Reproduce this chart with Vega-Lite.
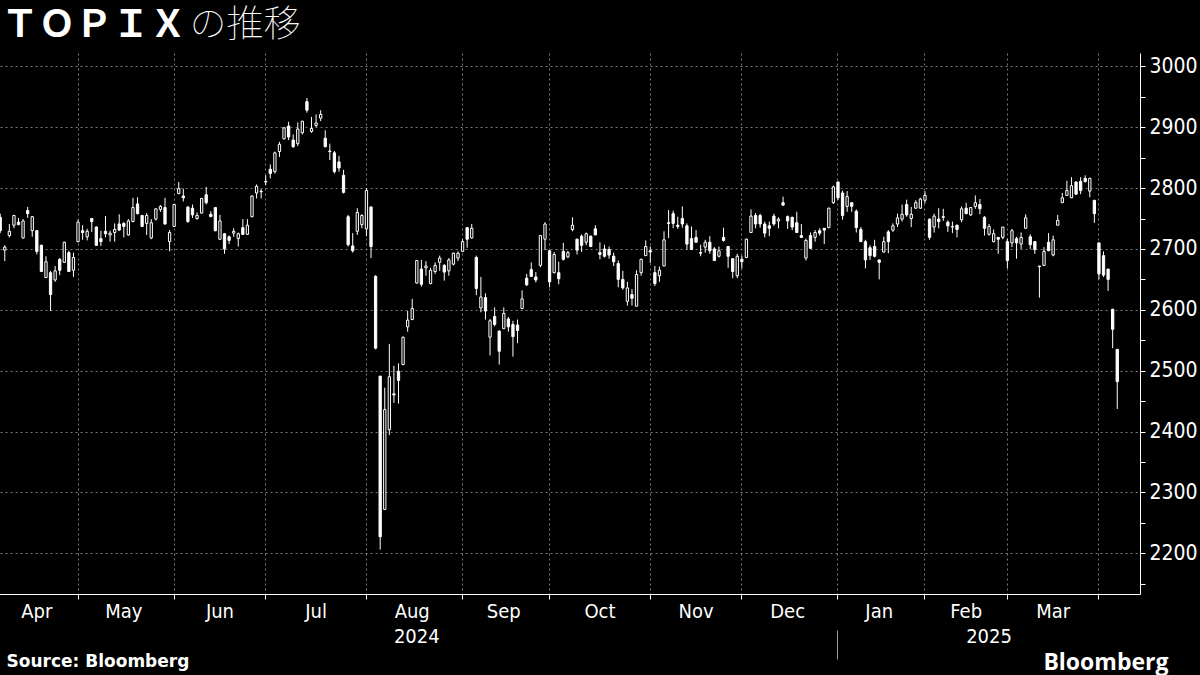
{
  "$schema": "https://vega.github.io/schema/vega-lite/v6.json",
  "width": 1140,
  "height": 541,
  "autosize": "none",
  "padding": {"left": 0, "top": 53, "right": 60, "bottom": 81},
  "background": "black",
  "config": {
    "view": {"stroke": null},
    "axis": {
      "labelFont": "DejaVu Sans Condensed",
      "labelFontSize": 20,
      "labelColor": "white",
      "labelAngle": 0,
      "labelOverlap": false,
      "labelFlush": false,
      "labelBound": false
    }
  },
  "data": {
    "values": [
      {"date": "2024-04-04", "open": 2752, "high": 2758, "low": 2726, "close": 2730},
      {"date": "2024-04-05", "open": 2698, "high": 2706, "low": 2680, "close": 2703},
      {"date": "2024-04-08", "open": 2722, "high": 2741, "low": 2719, "close": 2729},
      {"date": "2024-04-09", "open": 2739, "high": 2756, "low": 2734, "close": 2755},
      {"date": "2024-04-10", "open": 2744, "high": 2751, "low": 2739, "close": 2740},
      {"date": "2024-04-11", "open": 2718, "high": 2749, "low": 2717, "close": 2746},
      {"date": "2024-04-12", "open": 2763, "high": 2769, "low": 2751, "close": 2758},
      {"date": "2024-04-15", "open": 2730, "high": 2754, "low": 2720, "close": 2753},
      {"date": "2024-04-16", "open": 2730, "high": 2731, "low": 2691, "close": 2696},
      {"date": "2024-04-17", "open": 2706, "high": 2707, "low": 2662, "close": 2663},
      {"date": "2024-04-18", "open": 2653, "high": 2688, "low": 2652, "close": 2679},
      {"date": "2024-04-19", "open": 2661, "high": 2664, "low": 2598, "close": 2625},
      {"date": "2024-04-22", "open": 2649, "high": 2672, "low": 2646, "close": 2664},
      {"date": "2024-04-23", "open": 2683, "high": 2685, "low": 2657, "close": 2665},
      {"date": "2024-04-24", "open": 2678, "high": 2712, "low": 2677, "close": 2711},
      {"date": "2024-04-25", "open": 2694, "high": 2697, "low": 2662, "close": 2663},
      {"date": "2024-04-26", "open": 2665, "high": 2694, "low": 2654, "close": 2686},
      {"date": "2024-04-30", "open": 2712, "high": 2748, "low": 2711, "close": 2744},
      {"date": "2024-05-01", "open": 2730, "high": 2739, "low": 2715, "close": 2727},
      {"date": "2024-05-02", "open": 2720, "high": 2733, "low": 2714, "close": 2729},
      {"date": "2024-05-07", "open": 2750, "high": 2751, "low": 2728, "close": 2745},
      {"date": "2024-05-08", "open": 2736, "high": 2737, "low": 2705, "close": 2706},
      {"date": "2024-05-09", "open": 2717, "high": 2730, "low": 2705, "close": 2712},
      {"date": "2024-05-10", "open": 2729, "high": 2754, "low": 2719, "close": 2725},
      {"date": "2024-05-13", "open": 2723, "high": 2730, "low": 2712, "close": 2726},
      {"date": "2024-05-14", "open": 2727, "high": 2742, "low": 2712, "close": 2732},
      {"date": "2024-05-15", "open": 2741, "high": 2757, "low": 2730, "close": 2731},
      {"date": "2024-05-16", "open": 2742, "high": 2744, "low": 2719, "close": 2737},
      {"date": "2024-05-17", "open": 2723, "high": 2749, "low": 2722, "close": 2746},
      {"date": "2024-05-20", "open": 2745, "high": 2784, "low": 2744, "close": 2768},
      {"date": "2024-05-21", "open": 2774, "high": 2785, "low": 2757, "close": 2758},
      {"date": "2024-05-22", "open": 2755, "high": 2756, "low": 2736, "close": 2737},
      {"date": "2024-05-23", "open": 2742, "high": 2759, "low": 2723, "close": 2755},
      {"date": "2024-05-24", "open": 2718, "high": 2749, "low": 2716, "close": 2743},
      {"date": "2024-05-27", "open": 2749, "high": 2766, "low": 2747, "close": 2766},
      {"date": "2024-05-28", "open": 2765, "high": 2772, "low": 2761, "close": 2770},
      {"date": "2024-05-29", "open": 2768, "high": 2784, "low": 2740, "close": 2741},
      {"date": "2024-05-30", "open": 2712, "high": 2731, "low": 2696, "close": 2727},
      {"date": "2024-05-31", "open": 2737, "high": 2774, "low": 2736, "close": 2773},
      {"date": "2024-06-03", "open": 2791, "high": 2810, "low": 2790, "close": 2799},
      {"date": "2024-06-04", "open": 2787, "high": 2799, "low": 2778, "close": 2784},
      {"date": "2024-06-05", "open": 2769, "high": 2770, "low": 2743, "close": 2745},
      {"date": "2024-06-06", "open": 2767, "high": 2773, "low": 2751, "close": 2756},
      {"date": "2024-06-07", "open": 2750, "high": 2760, "low": 2748, "close": 2755},
      {"date": "2024-06-10", "open": 2759, "high": 2784, "low": 2758, "close": 2783},
      {"date": "2024-06-11", "open": 2789, "high": 2802, "low": 2773, "close": 2776},
      {"date": "2024-06-12", "open": 2757, "high": 2762, "low": 2753, "close": 2753},
      {"date": "2024-06-13", "open": 2768, "high": 2769, "low": 2729, "close": 2730},
      {"date": "2024-06-14", "open": 2716, "high": 2756, "low": 2715, "close": 2746},
      {"date": "2024-06-17", "open": 2725, "high": 2726, "low": 2692, "close": 2700},
      {"date": "2024-06-18", "open": 2720, "high": 2722, "low": 2708, "close": 2714},
      {"date": "2024-06-19", "open": 2726, "high": 2734, "low": 2720, "close": 2729},
      {"date": "2024-06-20", "open": 2717, "high": 2727, "low": 2704, "close": 2725},
      {"date": "2024-06-21", "open": 2735, "high": 2749, "low": 2723, "close": 2724},
      {"date": "2024-06-24", "open": 2724, "high": 2749, "low": 2723, "close": 2739},
      {"date": "2024-06-25", "open": 2753, "high": 2788, "low": 2752, "close": 2787},
      {"date": "2024-06-26", "open": 2792, "high": 2806, "low": 2783, "close": 2803},
      {"date": "2024-06-27", "open": 2795, "high": 2798, "low": 2783, "close": 2794},
      {"date": "2024-06-28", "open": 2810, "high": 2821, "low": 2805, "close": 2811},
      {"date": "2024-07-01", "open": 2831, "high": 2839, "low": 2816, "close": 2824},
      {"date": "2024-07-02", "open": 2827, "high": 2860, "low": 2824, "close": 2858},
      {"date": "2024-07-03", "open": 2860, "high": 2876, "low": 2851, "close": 2872},
      {"date": "2024-07-04", "open": 2881, "high": 2900, "low": 2880, "close": 2899},
      {"date": "2024-07-05", "open": 2902, "high": 2909, "low": 2879, "close": 2884},
      {"date": "2024-07-08", "open": 2879, "high": 2888, "low": 2866, "close": 2868},
      {"date": "2024-07-09", "open": 2873, "high": 2908, "low": 2869, "close": 2897},
      {"date": "2024-07-10", "open": 2891, "high": 2910, "low": 2888, "close": 2910},
      {"date": "2024-07-11", "open": 2942, "high": 2948, "low": 2924, "close": 2928},
      {"date": "2024-07-12", "open": 2893, "high": 2917, "low": 2891, "close": 2898},
      {"date": "2024-07-16", "open": 2903, "high": 2921, "low": 2900, "close": 2907},
      {"date": "2024-07-17", "open": 2915, "high": 2928, "low": 2910, "close": 2921},
      {"date": "2024-07-18", "open": 2882, "high": 2895, "low": 2867, "close": 2868},
      {"date": "2024-07-19", "open": 2861, "high": 2873, "low": 2846, "close": 2860},
      {"date": "2024-07-22", "open": 2858, "high": 2861, "low": 2824, "close": 2827},
      {"date": "2024-07-23", "open": 2843, "high": 2853, "low": 2827, "close": 2833},
      {"date": "2024-07-24", "open": 2821, "high": 2830, "low": 2791, "close": 2793},
      {"date": "2024-07-25", "open": 2753, "high": 2756, "low": 2704, "close": 2707},
      {"date": "2024-07-26", "open": 2705, "high": 2726, "low": 2694, "close": 2697},
      {"date": "2024-07-29", "open": 2729, "high": 2767, "low": 2723, "close": 2760},
      {"date": "2024-07-30", "open": 2740, "high": 2757, "low": 2734, "close": 2755},
      {"date": "2024-07-31", "open": 2733, "high": 2800, "low": 2721, "close": 2796},
      {"date": "2024-08-01", "open": 2769, "high": 2770, "low": 2685, "close": 2704},
      {"date": "2024-08-02", "open": 2655, "high": 2657, "low": 2535, "close": 2537},
      {"date": "2024-08-05", "open": 2491, "high": 2491, "low": 2206, "close": 2227},
      {"date": "2024-08-06", "open": 2272, "high": 2472, "low": 2271, "close": 2436},
      {"date": "2024-08-07", "open": 2403, "high": 2544, "low": 2394, "close": 2490},
      {"date": "2024-08-08", "open": 2462, "high": 2508, "low": 2447, "close": 2460},
      {"date": "2024-08-09", "open": 2499, "high": 2512, "low": 2446, "close": 2484},
      {"date": "2024-08-13", "open": 2510, "high": 2556, "low": 2509, "close": 2555},
      {"date": "2024-08-14", "open": 2572, "high": 2598, "low": 2564, "close": 2583},
      {"date": "2024-08-15", "open": 2584, "high": 2618, "low": 2583, "close": 2602},
      {"date": "2024-08-16", "open": 2644, "high": 2681, "low": 2643, "close": 2681},
      {"date": "2024-08-19", "open": 2667, "high": 2682, "low": 2638, "close": 2642},
      {"date": "2024-08-20", "open": 2669, "high": 2680, "low": 2656, "close": 2672},
      {"date": "2024-08-21", "open": 2643, "high": 2669, "low": 2642, "close": 2665},
      {"date": "2024-08-22", "open": 2663, "high": 2678, "low": 2659, "close": 2673},
      {"date": "2024-08-23", "open": 2678, "high": 2689, "low": 2664, "close": 2685},
      {"date": "2024-08-26", "open": 2673, "high": 2675, "low": 2648, "close": 2662},
      {"date": "2024-08-27", "open": 2664, "high": 2685, "low": 2656, "close": 2682},
      {"date": "2024-08-28", "open": 2675, "high": 2694, "low": 2673, "close": 2693},
      {"date": "2024-08-29", "open": 2685, "high": 2696, "low": 2680, "close": 2693},
      {"date": "2024-08-30", "open": 2696, "high": 2716, "low": 2695, "close": 2712},
      {"date": "2024-09-02", "open": 2735, "high": 2736, "low": 2702, "close": 2716},
      {"date": "2024-09-03", "open": 2718, "high": 2741, "low": 2717, "close": 2734},
      {"date": "2024-09-04", "open": 2686, "high": 2689, "low": 2624, "close": 2635},
      {"date": "2024-09-05", "open": 2603, "high": 2654, "low": 2596, "close": 2621},
      {"date": "2024-09-06", "open": 2620, "high": 2627, "low": 2584, "close": 2598},
      {"date": "2024-09-09", "open": 2555, "high": 2585, "low": 2525, "close": 2582},
      {"date": "2024-09-10", "open": 2589, "high": 2604, "low": 2573, "close": 2576},
      {"date": "2024-09-11", "open": 2565, "high": 2566, "low": 2510, "close": 2532},
      {"date": "2024-09-12", "open": 2569, "high": 2604, "low": 2569, "close": 2594},
      {"date": "2024-09-13", "open": 2585, "high": 2588, "low": 2564, "close": 2572},
      {"date": "2024-09-17", "open": 2576, "high": 2582, "low": 2523, "close": 2556},
      {"date": "2024-09-18", "open": 2575, "high": 2584, "low": 2545, "close": 2566},
      {"date": "2024-09-19", "open": 2602, "high": 2632, "low": 2601, "close": 2618},
      {"date": "2024-09-20", "open": 2652, "high": 2659, "low": 2639, "close": 2641},
      {"date": "2024-09-24", "open": 2666, "high": 2678, "low": 2654, "close": 2655},
      {"date": "2024-09-25", "open": 2654, "high": 2662, "low": 2645, "close": 2649},
      {"date": "2024-09-26", "open": 2673, "high": 2722, "low": 2670, "close": 2722},
      {"date": "2024-09-27", "open": 2716, "high": 2744, "low": 2698, "close": 2741},
      {"date": "2024-09-30", "open": 2697, "high": 2698, "low": 2637, "close": 2646},
      {"date": "2024-10-01", "open": 2661, "high": 2695, "low": 2660, "close": 2691},
      {"date": "2024-10-02", "open": 2661, "high": 2679, "low": 2642, "close": 2651},
      {"date": "2024-10-03", "open": 2696, "high": 2710, "low": 2681, "close": 2683},
      {"date": "2024-10-04", "open": 2687, "high": 2697, "low": 2685, "close": 2694},
      {"date": "2024-10-07", "open": 2732, "high": 2752, "low": 2729, "close": 2739},
      {"date": "2024-10-08", "open": 2716, "high": 2717, "low": 2691, "close": 2698},
      {"date": "2024-10-09", "open": 2721, "high": 2724, "low": 2695, "close": 2706},
      {"date": "2024-10-10", "open": 2711, "high": 2727, "low": 2706, "close": 2725},
      {"date": "2024-10-11", "open": 2721, "high": 2722, "low": 2703, "close": 2704},
      {"date": "2024-10-15", "open": 2733, "high": 2739, "low": 2723, "close": 2723},
      {"date": "2024-10-16", "open": 2694, "high": 2711, "low": 2683, "close": 2691},
      {"date": "2024-10-17", "open": 2700, "high": 2707, "low": 2686, "close": 2688},
      {"date": "2024-10-18", "open": 2699, "high": 2704, "low": 2684, "close": 2690},
      {"date": "2024-10-21", "open": 2688, "high": 2694, "low": 2672, "close": 2679},
      {"date": "2024-10-22", "open": 2676, "high": 2681, "low": 2637, "close": 2650},
      {"date": "2024-10-23", "open": 2650, "high": 2664, "low": 2633, "close": 2636},
      {"date": "2024-10-24", "open": 2614, "high": 2646, "low": 2607, "close": 2636},
      {"date": "2024-10-25", "open": 2625, "high": 2634, "low": 2607, "close": 2619},
      {"date": "2024-10-28", "open": 2606, "high": 2665, "low": 2606, "close": 2658},
      {"date": "2024-10-29", "open": 2661, "high": 2684, "low": 2656, "close": 2683},
      {"date": "2024-10-30", "open": 2689, "high": 2714, "low": 2689, "close": 2704},
      {"date": "2024-10-31", "open": 2697, "high": 2704, "low": 2677, "close": 2695},
      {"date": "2024-11-01", "open": 2661, "high": 2672, "low": 2639, "close": 2643},
      {"date": "2024-11-05", "open": 2656, "high": 2671, "low": 2646, "close": 2665},
      {"date": "2024-11-06", "open": 2672, "high": 2729, "low": 2672, "close": 2715},
      {"date": "2024-11-07", "open": 2743, "high": 2764, "low": 2718, "close": 2742},
      {"date": "2024-11-08", "open": 2758, "high": 2763, "low": 2734, "close": 2742},
      {"date": "2024-11-11", "open": 2739, "high": 2753, "low": 2733, "close": 2737},
      {"date": "2024-11-12", "open": 2750, "high": 2770, "low": 2735, "close": 2741},
      {"date": "2024-11-13", "open": 2738, "high": 2742, "low": 2699, "close": 2708},
      {"date": "2024-11-14", "open": 2717, "high": 2737, "low": 2699, "close": 2699},
      {"date": "2024-11-15", "open": 2719, "high": 2731, "low": 2711, "close": 2711},
      {"date": "2024-11-18", "open": 2694, "high": 2707, "low": 2688, "close": 2693},
      {"date": "2024-11-19", "open": 2703, "high": 2715, "low": 2694, "close": 2711},
      {"date": "2024-11-20", "open": 2711, "high": 2721, "low": 2692, "close": 2697},
      {"date": "2024-11-21", "open": 2700, "high": 2703, "low": 2680, "close": 2681},
      {"date": "2024-11-22", "open": 2688, "high": 2704, "low": 2686, "close": 2697},
      {"date": "2024-11-25", "open": 2719, "high": 2735, "low": 2712, "close": 2714},
      {"date": "2024-11-26", "open": 2704, "high": 2705, "low": 2669, "close": 2688},
      {"date": "2024-11-27", "open": 2684, "high": 2684, "low": 2652, "close": 2663},
      {"date": "2024-11-28", "open": 2656, "high": 2692, "low": 2652, "close": 2688},
      {"date": "2024-11-29", "open": 2683, "high": 2689, "low": 2668, "close": 2679},
      {"date": "2024-12-02", "open": 2686, "high": 2717, "low": 2685, "close": 2716},
      {"date": "2024-12-03", "open": 2727, "high": 2765, "low": 2727, "close": 2754},
      {"date": "2024-12-04", "open": 2755, "high": 2759, "low": 2734, "close": 2741},
      {"date": "2024-12-05", "open": 2755, "high": 2758, "low": 2735, "close": 2741},
      {"date": "2024-12-06", "open": 2741, "high": 2745, "low": 2719, "close": 2726},
      {"date": "2024-12-09", "open": 2738, "high": 2745, "low": 2721, "close": 2734},
      {"date": "2024-12-10", "open": 2754, "high": 2758, "low": 2738, "close": 2741},
      {"date": "2024-12-11", "open": 2746, "high": 2752, "low": 2734, "close": 2749},
      {"date": "2024-12-12", "open": 2776, "high": 2786, "low": 2771, "close": 2772},
      {"date": "2024-12-13", "open": 2753, "high": 2755, "low": 2733, "close": 2746},
      {"date": "2024-12-16", "open": 2752, "high": 2753, "low": 2731, "close": 2736},
      {"date": "2024-12-17", "open": 2743, "high": 2761, "low": 2727, "close": 2727},
      {"date": "2024-12-18", "open": 2722, "high": 2741, "low": 2718, "close": 2719},
      {"date": "2024-12-19", "open": 2685, "high": 2717, "low": 2681, "close": 2714},
      {"date": "2024-12-20", "open": 2722, "high": 2727, "low": 2701, "close": 2701},
      {"date": "2024-12-23", "open": 2719, "high": 2731, "low": 2712, "close": 2727},
      {"date": "2024-12-24", "open": 2730, "high": 2734, "low": 2722, "close": 2726},
      {"date": "2024-12-25", "open": 2734, "high": 2734, "low": 2708, "close": 2731},
      {"date": "2024-12-26", "open": 2735, "high": 2768, "low": 2734, "close": 2767},
      {"date": "2024-12-27", "open": 2776, "high": 2804, "low": 2774, "close": 2802},
      {"date": "2024-12-30", "open": 2810, "high": 2811, "low": 2780, "close": 2784},
      {"date": "2025-01-06", "open": 2792, "high": 2796, "low": 2748, "close": 2755},
      {"date": "2025-01-07", "open": 2770, "high": 2795, "low": 2761, "close": 2786},
      {"date": "2025-01-08", "open": 2776, "high": 2776, "low": 2761, "close": 2770},
      {"date": "2025-01-09", "open": 2762, "high": 2765, "low": 2727, "close": 2735},
      {"date": "2025-01-10", "open": 2732, "high": 2736, "low": 2712, "close": 2712},
      {"date": "2025-01-14", "open": 2712, "high": 2715, "low": 2668, "close": 2682},
      {"date": "2025-01-15", "open": 2702, "high": 2706, "low": 2682, "close": 2689},
      {"date": "2025-01-16", "open": 2704, "high": 2715, "low": 2686, "close": 2688},
      {"date": "2025-01-17", "open": 2682, "high": 2682, "low": 2650, "close": 2678},
      {"date": "2025-01-20", "open": 2695, "high": 2720, "low": 2694, "close": 2712},
      {"date": "2025-01-21", "open": 2728, "high": 2731, "low": 2693, "close": 2712},
      {"date": "2025-01-22", "open": 2731, "high": 2742, "low": 2728, "close": 2738},
      {"date": "2025-01-23", "open": 2741, "high": 2758, "low": 2736, "close": 2751},
      {"date": "2025-01-24", "open": 2749, "high": 2773, "low": 2745, "close": 2757},
      {"date": "2025-01-27", "open": 2773, "high": 2781, "low": 2753, "close": 2756},
      {"date": "2025-01-28", "open": 2750, "high": 2769, "low": 2736, "close": 2757},
      {"date": "2025-01-29", "open": 2767, "high": 2780, "low": 2766, "close": 2776},
      {"date": "2025-01-30", "open": 2767, "high": 2784, "low": 2766, "close": 2782},
      {"date": "2025-01-31", "open": 2780, "high": 2795, "low": 2775, "close": 2788},
      {"date": "2025-02-03", "open": 2749, "high": 2750, "low": 2715, "close": 2719},
      {"date": "2025-02-04", "open": 2736, "high": 2758, "low": 2727, "close": 2754},
      {"date": "2025-02-05", "open": 2749, "high": 2767, "low": 2734, "close": 2745},
      {"date": "2025-02-06", "open": 2753, "high": 2766, "low": 2746, "close": 2752},
      {"date": "2025-02-07", "open": 2744, "high": 2747, "low": 2728, "close": 2738},
      {"date": "2025-02-10", "open": 2737, "high": 2745, "low": 2726, "close": 2736},
      {"date": "2025-02-12", "open": 2739, "high": 2740, "low": 2719, "close": 2732},
      {"date": "2025-02-13", "open": 2748, "high": 2770, "low": 2744, "close": 2766},
      {"date": "2025-02-14", "open": 2767, "high": 2776, "low": 2757, "close": 2758},
      {"date": "2025-02-17", "open": 2756, "high": 2768, "low": 2754, "close": 2768},
      {"date": "2025-02-18", "open": 2770, "high": 2788, "low": 2766, "close": 2776},
      {"date": "2025-02-19", "open": 2773, "high": 2782, "low": 2757, "close": 2766},
      {"date": "2025-02-20", "open": 2752, "high": 2754, "low": 2722, "close": 2734},
      {"date": "2025-02-21", "open": 2724, "high": 2741, "low": 2722, "close": 2737},
      {"date": "2025-02-25", "open": 2712, "high": 2732, "low": 2711, "close": 2725},
      {"date": "2025-02-26", "open": 2719, "high": 2719, "low": 2692, "close": 2716},
      {"date": "2025-02-27", "open": 2719, "high": 2736, "low": 2716, "close": 2736},
      {"date": "2025-02-28", "open": 2712, "high": 2717, "low": 2668, "close": 2681},
      {"date": "2025-03-03", "open": 2710, "high": 2733, "low": 2703, "close": 2730},
      {"date": "2025-03-04", "open": 2717, "high": 2720, "low": 2684, "close": 2710},
      {"date": "2025-03-05", "open": 2708, "high": 2727, "low": 2700, "close": 2719},
      {"date": "2025-03-06", "open": 2734, "high": 2757, "low": 2734, "close": 2751},
      {"date": "2025-03-07", "open": 2720, "high": 2724, "low": 2700, "close": 2707},
      {"date": "2025-03-10", "open": 2712, "high": 2713, "low": 2692, "close": 2699},
      {"date": "2025-03-11", "open": 2672, "high": 2672, "low": 2620, "close": 2671},
      {"date": "2025-03-12", "open": 2673, "high": 2703, "low": 2672, "close": 2696},
      {"date": "2025-03-13", "open": 2711, "high": 2726, "low": 2697, "close": 2697},
      {"date": "2025-03-14", "open": 2690, "high": 2722, "low": 2688, "close": 2715},
      {"date": "2025-03-17", "open": 2739, "high": 2756, "low": 2739, "close": 2747},
      {"date": "2025-03-18", "open": 2776, "high": 2792, "low": 2776, "close": 2784},
      {"date": "2025-03-19", "open": 2788, "high": 2812, "low": 2788, "close": 2796},
      {"date": "2025-03-21", "open": 2784, "high": 2818, "low": 2784, "close": 2804},
      {"date": "2025-03-24", "open": 2810, "high": 2811, "low": 2789, "close": 2790},
      {"date": "2025-03-25", "open": 2811, "high": 2818, "low": 2790, "close": 2796},
      {"date": "2025-03-26", "open": 2816, "high": 2821, "low": 2809, "close": 2811},
      {"date": "2025-03-27", "open": 2795, "high": 2817, "low": 2785, "close": 2816},
      {"date": "2025-03-28", "open": 2780, "high": 2780, "low": 2743, "close": 2758},
      {"date": "2025-03-31", "open": 2710, "high": 2710, "low": 2650, "close": 2659},
      {"date": "2025-04-01", "open": 2689, "high": 2696, "low": 2654, "close": 2657},
      {"date": "2025-04-02", "open": 2667, "high": 2667, "low": 2631, "close": 2650},
      {"date": "2025-04-03", "open": 2601, "high": 2601, "low": 2537, "close": 2568},
      {"date": "2025-04-04", "open": 2535, "high": 2535, "low": 2437, "close": 2482}
    ]
  },
  "resolve": {"scale": {"x": "shared", "y": "shared"}, "axis": {"x": "independent", "y": "independent"}},
  "layer": [
    {
      "mark": {"type": "rule", "color": "white", "strokeWidth": 1},
      "encoding": {
        "x": {
          "field": "date",
          "type": "ordinal",
          "sort": "ascending",
          "scale": {
            "type": "band",
            "domain": {"unionWith": ["2025-04-07", "2025-04-08", "2025-04-09"]},
            "paddingInner": 0,
            "paddingOuter": 0.735,
            "align": 0,
            "range": [-2.09, 1140]
          },
          "axis": {
            "orient": "bottom",
            "values": ["2024-04-30", "2024-05-31", "2024-06-28", "2024-07-31", "2024-08-30", "2024-09-30", "2024-10-31", "2024-11-29", "2024-12-30", "2025-01-31", "2025-02-28", "2025-03-31"],
            "bandPosition": 0.5,
            "labels": false,
            "ticks": true,
            "tickSize": 5,
            "tickColor": "white",
            "domain": true,
            "domainColor": "white",
            "grid": true,
            "gridColor": "#7a7a7a",
            "gridDash": [2, 3],
            "gridWidth": 1,
            "title": "Bloomberg",
            "titleX": 1168,
            "titleY": 75,
            "titleAlign": "right",
            "titleAnchor": "end",
            "titleBaseline": "alphabetic",
            "titleFont": "Open Sans",
            "titleFontSize": 23,
            "titleFontWeight": "bold",
            "titleColor": "white"
          }
        },
        "y": {
          "field": "low",
          "type": "quantitative",
          "scale": {"domain": [2133, 3022], "zero": false, "nice": false},
          "axis": {
            "orient": "right",
            "values": [2200, 2300, 2400, 2500, 2600, 2700, 2800, 2900, 3000],
            "format": "d",
            "labelFontSize": 21,
            "labelPadding": 4,
            "tickSize": 5,
            "tickColor": "white",
            "domainColor": "white",
            "grid": true,
            "gridColor": "#7a7a7a",
            "gridDash": [2, 3],
            "gridWidth": 1,
            "title": null
          }
        },
        "y2": {"field": "high"}
      }
    },
    {
      "transform": [{"filter": "datum.close < datum.open"}],
      "mark": {"type": "bar", "width": {"band": 0.5}, "fill": "white", "stroke": "white", "strokeWidth": 1},
      "encoding": {
        "x": {
          "field": "date",
          "type": "ordinal",
          "sort": "ascending",
          "axis": {
            "orient": "bottom",
            "values": ["2024-04-16", "2024-05-16", "2024-06-14", "2024-07-16", "2024-08-15", "2024-09-12", "2024-10-16", "2024-11-15", "2024-12-13", "2025-01-17", "2025-02-14", "2025-03-14"],
            "bandPosition": 0.5,
            "labelExpr": "utcFormat(toDate(datum.value), '%b')",
            "labelBaseline": "alphabetic",
            "labelPadding": 23,
            "ticks": false,
            "domain": false,
            "grid": false,
            "title": "Source: Bloomberg",
            "titleX": 6,
            "titleY": 72,
            "titleAlign": "left",
            "titleAnchor": "start",
            "titleBaseline": "alphabetic",
            "titleFont": "DejaVu Sans",
            "titleFontSize": 17,
            "titleFontWeight": "bold",
            "titleColor": "white"
          }
        },
        "y": {
          "field": "open",
          "type": "quantitative",
          "axis": {
            "orient": "right",
            "values": [2150, 2250, 2350, 2450, 2550, 2650, 2750, 2850, 2950],
            "labels": false,
            "grid": false,
            "domain": false,
            "tickSize": 5,
            "tickColor": "white",
            "title": "ＴＯＰＩＸ",
            "titleX": -1139,
            "titleY": -17,
            "titleAngle": 0,
            "titleAlign": "left",
            "titleAnchor": "start",
            "titleBaseline": "alphabetic",
            "titleFont": "Noto Sans CJK JP",
            "titleFontSize": 37,
            "titleFontWeight": "bold",
            "titleColor": "white"
          }
        },
        "y2": {"field": "close"}
      }
    },
    {
      "transform": [{"filter": "datum.close >= datum.open"}],
      "mark": {"type": "bar", "width": {"band": 0.5}, "fill": "black", "stroke": "white", "strokeWidth": 1},
      "encoding": {
        "x": {
          "field": "date",
          "type": "ordinal",
          "sort": "ascending",
          "axis": {
            "orient": "bottom",
            "values": ["2024-08-16", "2024-12-30", "2025-02-21"],
            "bandPosition": 0.5,
            "offset": 36,
            "labelExpr": "datum.value === '2024-12-30' ? '' : substring(datum.value, 0, 4)",
            "labelBaseline": "alphabetic",
            "labelPadding": -17,
            "ticks": true,
            "tickSize": 29,
            "tickColor": "#9a9a9a",
            "tickOpacity": {"condition": {"test": "datum.value === '2024-12-30'", "value": 1}, "value": 0},
            "domain": false,
            "grid": false,
            "title": "の推移",
            "titleX": 189,
            "titleY": -594,
            "titleAlign": "left",
            "titleAnchor": "start",
            "titleAngle": 0,
            "titleBaseline": "alphabetic",
            "titleFont": "Noto Sans CJK JP",
            "titleFontSize": 37,
            "titleFontWeight": 100,
            "titleColor": "white"
          }
        },
        "y": {"field": "open", "type": "quantitative", "axis": null},
        "y2": {"field": "close"}
      }
    }
  ]
}
